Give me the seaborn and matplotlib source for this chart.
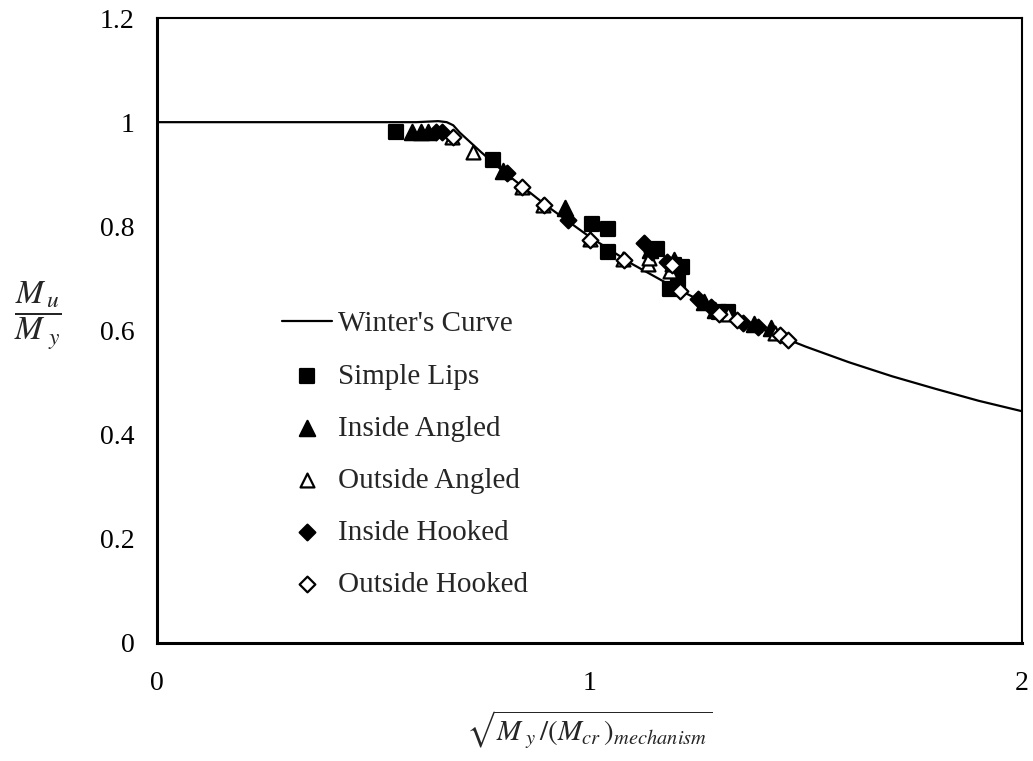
import matplotlib
matplotlib.use("Agg")
import matplotlib.pyplot as plt
import seaborn as sns
import pandas as pd

# ---- data ----
curve_x = [0.0, 0.1, 0.2, 0.3, 0.4, 0.5, 0.6, 0.65, 0.67, 0.685, 0.7, 0.75, 0.8, 0.9, 1.0,
           1.1, 1.2, 1.3, 1.4, 1.5, 1.6, 1.7, 1.8, 1.9, 2.0]
curve_y = [1.0, 1.0, 1.0, 1.0, 1.0, 1.0, 1.0, 1.002, 1.0, 0.994, 0.98, 0.942, 0.906, 0.840, 0.780,
           0.727, 0.681, 0.639, 0.602, 0.569, 0.539, 0.512, 0.488, 0.465, 0.445]

simple_x = [0.553, 0.777, 1.006, 1.043, 1.043, 1.155, 1.195, 1.215, 1.185, 1.205, 1.30, 1.32]
simple_y = [0.981, 0.927, 0.805, 0.795, 0.751, 0.757, 0.725, 0.722, 0.680, 0.695, 0.636, 0.636]

in_ang_x = [0.59, 0.61, 0.627, 0.80, 0.943, 1.14, 1.195, 1.265, 1.29, 1.38, 1.42]
in_ang_y = [0.981, 0.981, 0.981, 0.907, 0.835, 0.755, 0.735, 0.655, 0.640, 0.613, 0.605]

out_ang_x = [0.682, 0.731, 0.844, 0.893, 1.00, 1.078, 1.135, 1.137, 1.185, 1.19, 1.32, 1.43]
out_ang_y = [0.972, 0.943, 0.876, 0.841, 0.776, 0.737, 0.728, 0.740, 0.715, 0.728, 0.632, 0.595]

in_hook_x = [0.645, 0.66, 0.81, 0.95, 1.125, 1.145, 1.18, 1.205, 1.25, 1.28, 1.355, 1.39]
in_hook_y = [0.981, 0.981, 0.903, 0.812, 0.768, 0.750, 0.732, 0.720, 0.660, 0.645, 0.615, 0.607]

out_hook_x = [0.685, 0.845, 0.895, 1.00, 1.08, 1.19, 1.21, 1.30, 1.341, 1.44, 1.459]
out_hook_y = [0.972, 0.876, 0.841, 0.774, 0.735, 0.725, 0.675, 0.632, 0.620, 0.592, 0.582]

x_ticks = [0, 1, 2]
x_tick_labels = ["0", "1", "2"]
y_ticks = [0, 0.2, 0.4, 0.6, 0.8, 1.0, 1.2]
y_tick_labels = ["0", "0.2", "0.4", "0.6", "0.8", "1", "1.2"]

# ---- style ----
sns.set_theme(style="white")
plt.rcParams['font.family'] = ['Liberation Serif', 'DejaVu Serif']
plt.rcParams['mathtext.fontset'] = 'stix'

fig = plt.figure(figsize=(10.33, 7.61), dpi=100)
ax = fig.add_axes([157/1033, 1 - 643/761, (1022-157)/1033, (643-18)/761])

sns.lineplot(x=curve_x, y=curve_y, ax=ax, color="black", linewidth=1.6,
             label="Winter's Curve", sort=False)

series = [
    ("Simple Lips", simple_x, simple_y, "s", "black", 10),
    ("Inside Angled", in_ang_x, in_ang_y, "^", "black", 11),
    ("Outside Angled", out_ang_x, out_ang_y, "^", "white", 10),
    ("Inside Hooked", in_hook_x, in_hook_y, "D", "black", 8),
    ("Outside Hooked", out_hook_x, out_hook_y, "D", "white", 8),
]
for name, xs, ys, m, fc, ms in series:
    sns.scatterplot(x=xs, y=ys, ax=ax, marker=m, s=ms**2, color=fc,
                    edgecolor="black", linewidth=1.6, label=name, zorder=3)

ax.set_xlim(0, 2)
ax.set_ylim(0, 1.2)
ax.set_xticks(x_ticks)
ax.set_xticklabels(x_tick_labels)
ax.set_yticks(y_ticks)
ax.set_yticklabels(y_tick_labels)
ax.tick_params(axis='both', direction='in', length=5, width=1.2, colors='black',
               labelsize=20)
ax.tick_params(axis='x', pad=20)
ax.tick_params(axis='y', pad=16)

for side in ['left', 'bottom']:
    ax.spines[side].set_linewidth(2.2)
    ax.spines[side].set_color('black')
for side in ['top', 'right']:
    ax.spines[side].set_linewidth(1.5)
    ax.spines[side].set_color('black')
ax.grid(False)

ax.set_xlabel(r"$\sqrt{M_{\ y}\,/(M_{cr}\,)_{mechanism}}$", fontsize=21, labelpad=9)
fig.text(38/1033, 1 - 316/761, r"$\dfrac{M_{\,u}}{M_{\ y}}$", fontsize=24,
         ha='center', va='center')

handles, labels = ax.get_legend_handles_labels()
ax.legend(handles, labels, loc='upper left', frameon=False,
          bbox_to_anchor=(282/1033, 1 - 311/761), bbox_transform=fig.transFigure,
          fontsize=21, labelspacing=0.88, handlelength=1.71, handletextpad=0.2,
          borderpad=0, borderaxespad=0)

fig.savefig("out.png", dpi=100)
